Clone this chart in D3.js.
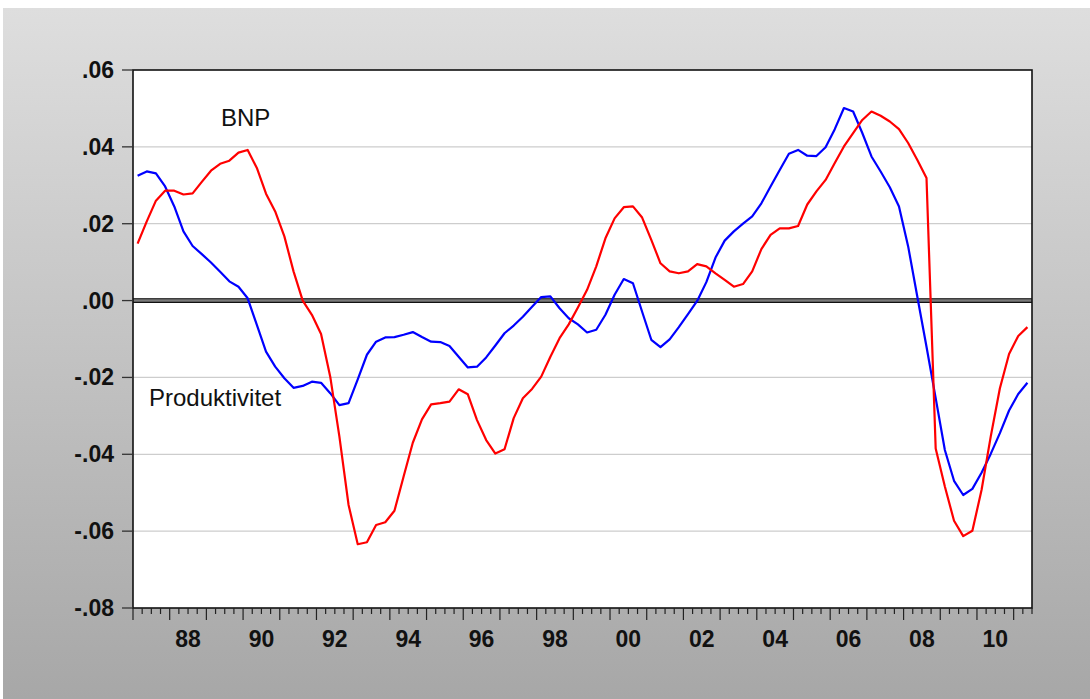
<!DOCTYPE html>
<html>
<head>
<meta charset="utf-8">
<script src="https://cdnjs.cloudflare.com/ajax/libs/d3/7.8.5/d3.min.js"></script>
<style>
    body { margin: 0; background: #ffffff; }
    #chart_box text { font-family: "Liberation Sans", Arial, sans-serif; }
</style>
</head>
<body>
<div id="chart_box"></div>
<script>
// quarterly series, 1987Q1 .. 2011Q2
startYear = 1987
bnpValues = [0.0148, 0.0206, 0.0260, 0.0286, 0.0286, 0.0276, 0.0279, 0.0309, 0.0338, 0.0356,
    0.0364, 0.0385, 0.0392, 0.0345, 0.0278, 0.0232, 0.0167, 0.0076, 0.0000, -0.0037,
    -0.0087, -0.0198, -0.0354, -0.0532, -0.0634, -0.0629, -0.0584, -0.0577, -0.0547, -0.0458,
    -0.0370, -0.0309, -0.0270, -0.0267, -0.0263, -0.0231, -0.0244, -0.0311, -0.0363, -0.0398,
    -0.0387, -0.0306, -0.0254, -0.0230, -0.0198, -0.0146, -0.0098, -0.0062, -0.0018, 0.0028,
    0.0089, 0.0162, 0.0214, 0.0243, 0.0245, 0.0216, 0.0158, 0.0097, 0.0076, 0.0071,
    0.0076, 0.0095, 0.0089, 0.0071, 0.0054, 0.0036, 0.0043, 0.0076, 0.0134, 0.0171,
    0.0188, 0.0188, 0.0194, 0.0250, 0.0284, 0.0314, 0.0358, 0.0401, 0.0436, 0.0470,
    0.0492, 0.0481, 0.0466, 0.0446, 0.0410, 0.0366, 0.0319, -0.0385, -0.0484, -0.0573,
    -0.0613, -0.0599, -0.0493, -0.0354, -0.0228, -0.0139, -0.0092, -0.0069]
produktivitetValues = [0.0325, 0.0336, 0.0331, 0.0297, 0.0245, 0.0180, 0.0142, 0.0121, 0.0099, 0.0075,
    0.0050, 0.0036, 0.0006, -0.0063, -0.0133, -0.0172, -0.0202, -0.0227, -0.0222, -0.0211,
    -0.0214, -0.0241, -0.0272, -0.0267, -0.0205, -0.0141, -0.0107, -0.0096, -0.0095, -0.0089,
    -0.0082, -0.0095, -0.0107, -0.0108, -0.0118, -0.0146, -0.0174, -0.0172, -0.0148, -0.0117,
    -0.0085, -0.0065, -0.0042, -0.0016, 0.0009, 0.0011, -0.0020, -0.0046, -0.0062, -0.0083,
    -0.0076, -0.0037, 0.0015, 0.0056, 0.0045, -0.0029, -0.0102, -0.0121, -0.0101, -0.0069,
    -0.0035, -0.0001, 0.0048, 0.0112, 0.0156, 0.0180, 0.0200, 0.0219, 0.0253, 0.0297,
    0.0340, 0.0382, 0.0392, 0.0377, 0.0376, 0.0399, 0.0446, 0.0501, 0.0492, 0.0436,
    0.0375, 0.0336, 0.0295, 0.0245, 0.0141, 0.0010, -0.0120, -0.0254, -0.0389, -0.0469,
    -0.0506, -0.0490, -0.0448, -0.0399, -0.0345, -0.0286, -0.0243, -0.0214]
yTickValues = [-0.08, -0.06, -0.04, -0.02, 0.00, 0.02, 0.04, 0.06]
yTickLabels = ["-.08", "-.06", "-.04", "-.02", ".00", ".02", ".04", ".06"]
xLabelYears = [1988, 1990, 1992, 1994, 1996, 1998, 2000, 2002, 2004, 2006, 2008, 2010]

function create_chart() {
    const width = 1090
    const height = 699
    const plotLeft = 133, plotRight = 1032, plotTop = 70, plotBottom = 608
    const totalQuarters = bnpValues.length

    const svg = d3.select("#chart_box").append("svg")
        .attr("width", width)
        .attr("height", height)

    // grey gradient backdrop
    const grad = svg.append("defs").append("linearGradient")
        .attr("id", "bg_grad")
        .attr("x1", 0).attr("y1", 0).attr("x2", 0).attr("y2", 1)
    grad.append("stop").attr("offset", "0%").attr("stop-color", "#dedede")
    grad.append("stop").attr("offset", "100%").attr("stop-color", "#a7a7a7")

    svg.append("rect").attr("width", width).attr("height", height).attr("fill", "#ffffff")
    svg.append("rect")
        .attr("x", 3).attr("y", 8)
        .attr("width", width - 3).attr("height", height - 8)
        .attr("fill", "url(#bg_grad)")

    const xScale = d3.scaleLinear().domain([0, totalQuarters]).range([plotLeft, plotRight])
    const yScale = d3.scaleLinear().domain([-0.08, 0.06]).range([plotBottom, plotTop])

    svg.append("rect")
        .attr("x", plotLeft).attr("y", plotTop)
        .attr("width", plotRight - plotLeft).attr("height", plotBottom - plotTop)
        .attr("fill", "#ffffff")

    // horizontal grid
    svg.append("g").selectAll("line")
        .data(yTickValues.filter(v => v != 0 && v > -0.08 && v < 0.06))
        .join("line")
        .attr("x1", plotLeft).attr("x2", plotRight)
        .attr("y1", d => yScale(d)).attr("y2", d => yScale(d))
        .attr("stroke", "#cdcdcd")
        .attr("stroke-width", 1.3)

    // zero line (drawn double like the original)
    const zeroY = yScale(0)
    svg.append("rect")
        .attr("x", plotLeft).attr("y", zeroY - 2)
        .attr("width", plotRight - plotLeft).attr("height", 4)
        .attr("fill", "#7a7a7a")
    svg.append("g").selectAll("line")
        .data([zeroY - 1.8, zeroY + 1.8])
        .join("line")
        .attr("x1", plotLeft).attr("x2", plotRight)
        .attr("y1", d => d).attr("y2", d => d)
        .attr("stroke", "#111111")
        .attr("stroke-width", 1.2)

    // series lines
    const lineMaker = d3.line()
        .x((d, i) => xScale(i + 0.5))
        .y(d => yScale(d))

    svg.append("path")
        .attr("d", lineMaker(produktivitetValues))
        .attr("fill", "none")
        .attr("stroke", "#0000ff")
        .attr("stroke-width", 2.2)
        .attr("stroke-linejoin", "round")

    svg.append("path")
        .attr("d", lineMaker(bnpValues))
        .attr("fill", "none")
        .attr("stroke", "#ff0000")
        .attr("stroke-width", 2.2)
        .attr("stroke-linejoin", "round")

    // frame
    svg.append("rect")
        .attr("x", plotLeft).attr("y", plotTop)
        .attr("width", plotRight - plotLeft).attr("height", plotBottom - plotTop)
        .attr("fill", "none")
        .attr("stroke", "#111111")
        .attr("stroke-width", 1.6)

    // y axis ticks + labels
    const yAxis = svg.append("g")
    yAxis.selectAll("line")
        .data(yTickValues)
        .join("line")
        .attr("x1", plotLeft - 11).attr("x2", plotLeft)
        .attr("y1", d => yScale(d)).attr("y2", d => yScale(d))
        .attr("stroke", "#333333")
        .attr("stroke-width", 1.3)
    yAxis.selectAll("text")
        .data(yTickValues)
        .join("text")
        .attr("x", 114)
        .attr("y", d => yScale(d) + 8)
        .attr("text-anchor", "end")
        .attr("font-size", "23px")
        .attr("font-weight", "bold")
        .attr("fill", "#111111")
        .text((d, i) => yTickLabels[i])

    // x axis: quarter ticks, year ticks longer
    const xAxis = svg.append("g")
    xAxis.selectAll("line")
        .data(d3.range(0, totalQuarters + 1))
        .join("line")
        .attr("x1", d => xScale(d)).attr("x2", d => xScale(d))
        .attr("y1", plotBottom)
        .attr("y2", d => d % 4 == 0 ? plotBottom + 12 : plotBottom + 6)
        .attr("stroke", "#222222")
        .attr("stroke-width", 1.2)
    xAxis.selectAll("text")
        .data(xLabelYears)
        .join("text")
        .attr("x", d => xScale((d - startYear) * 4 + 2))
        .attr("y", 647)
        .attr("text-anchor", "middle")
        .attr("font-size", "23px")
        .attr("font-weight", "bold")
        .attr("fill", "#111111")
        .text(d => String(d % 100).padStart(2, "0"))

    // series names written inside the plot
    svg.append("text")
        .attr("x", 221).attr("y", 126)
        .attr("font-size", "24px")
        .attr("fill", "#111111")
        .text("BNP")
    svg.append("text")
        .attr("x", 149).attr("y", 406)
        .attr("font-size", "24px")
        .attr("fill", "#111111")
        .text("Produktivitet")
}

create_chart()
</script>
</body>
</html>
